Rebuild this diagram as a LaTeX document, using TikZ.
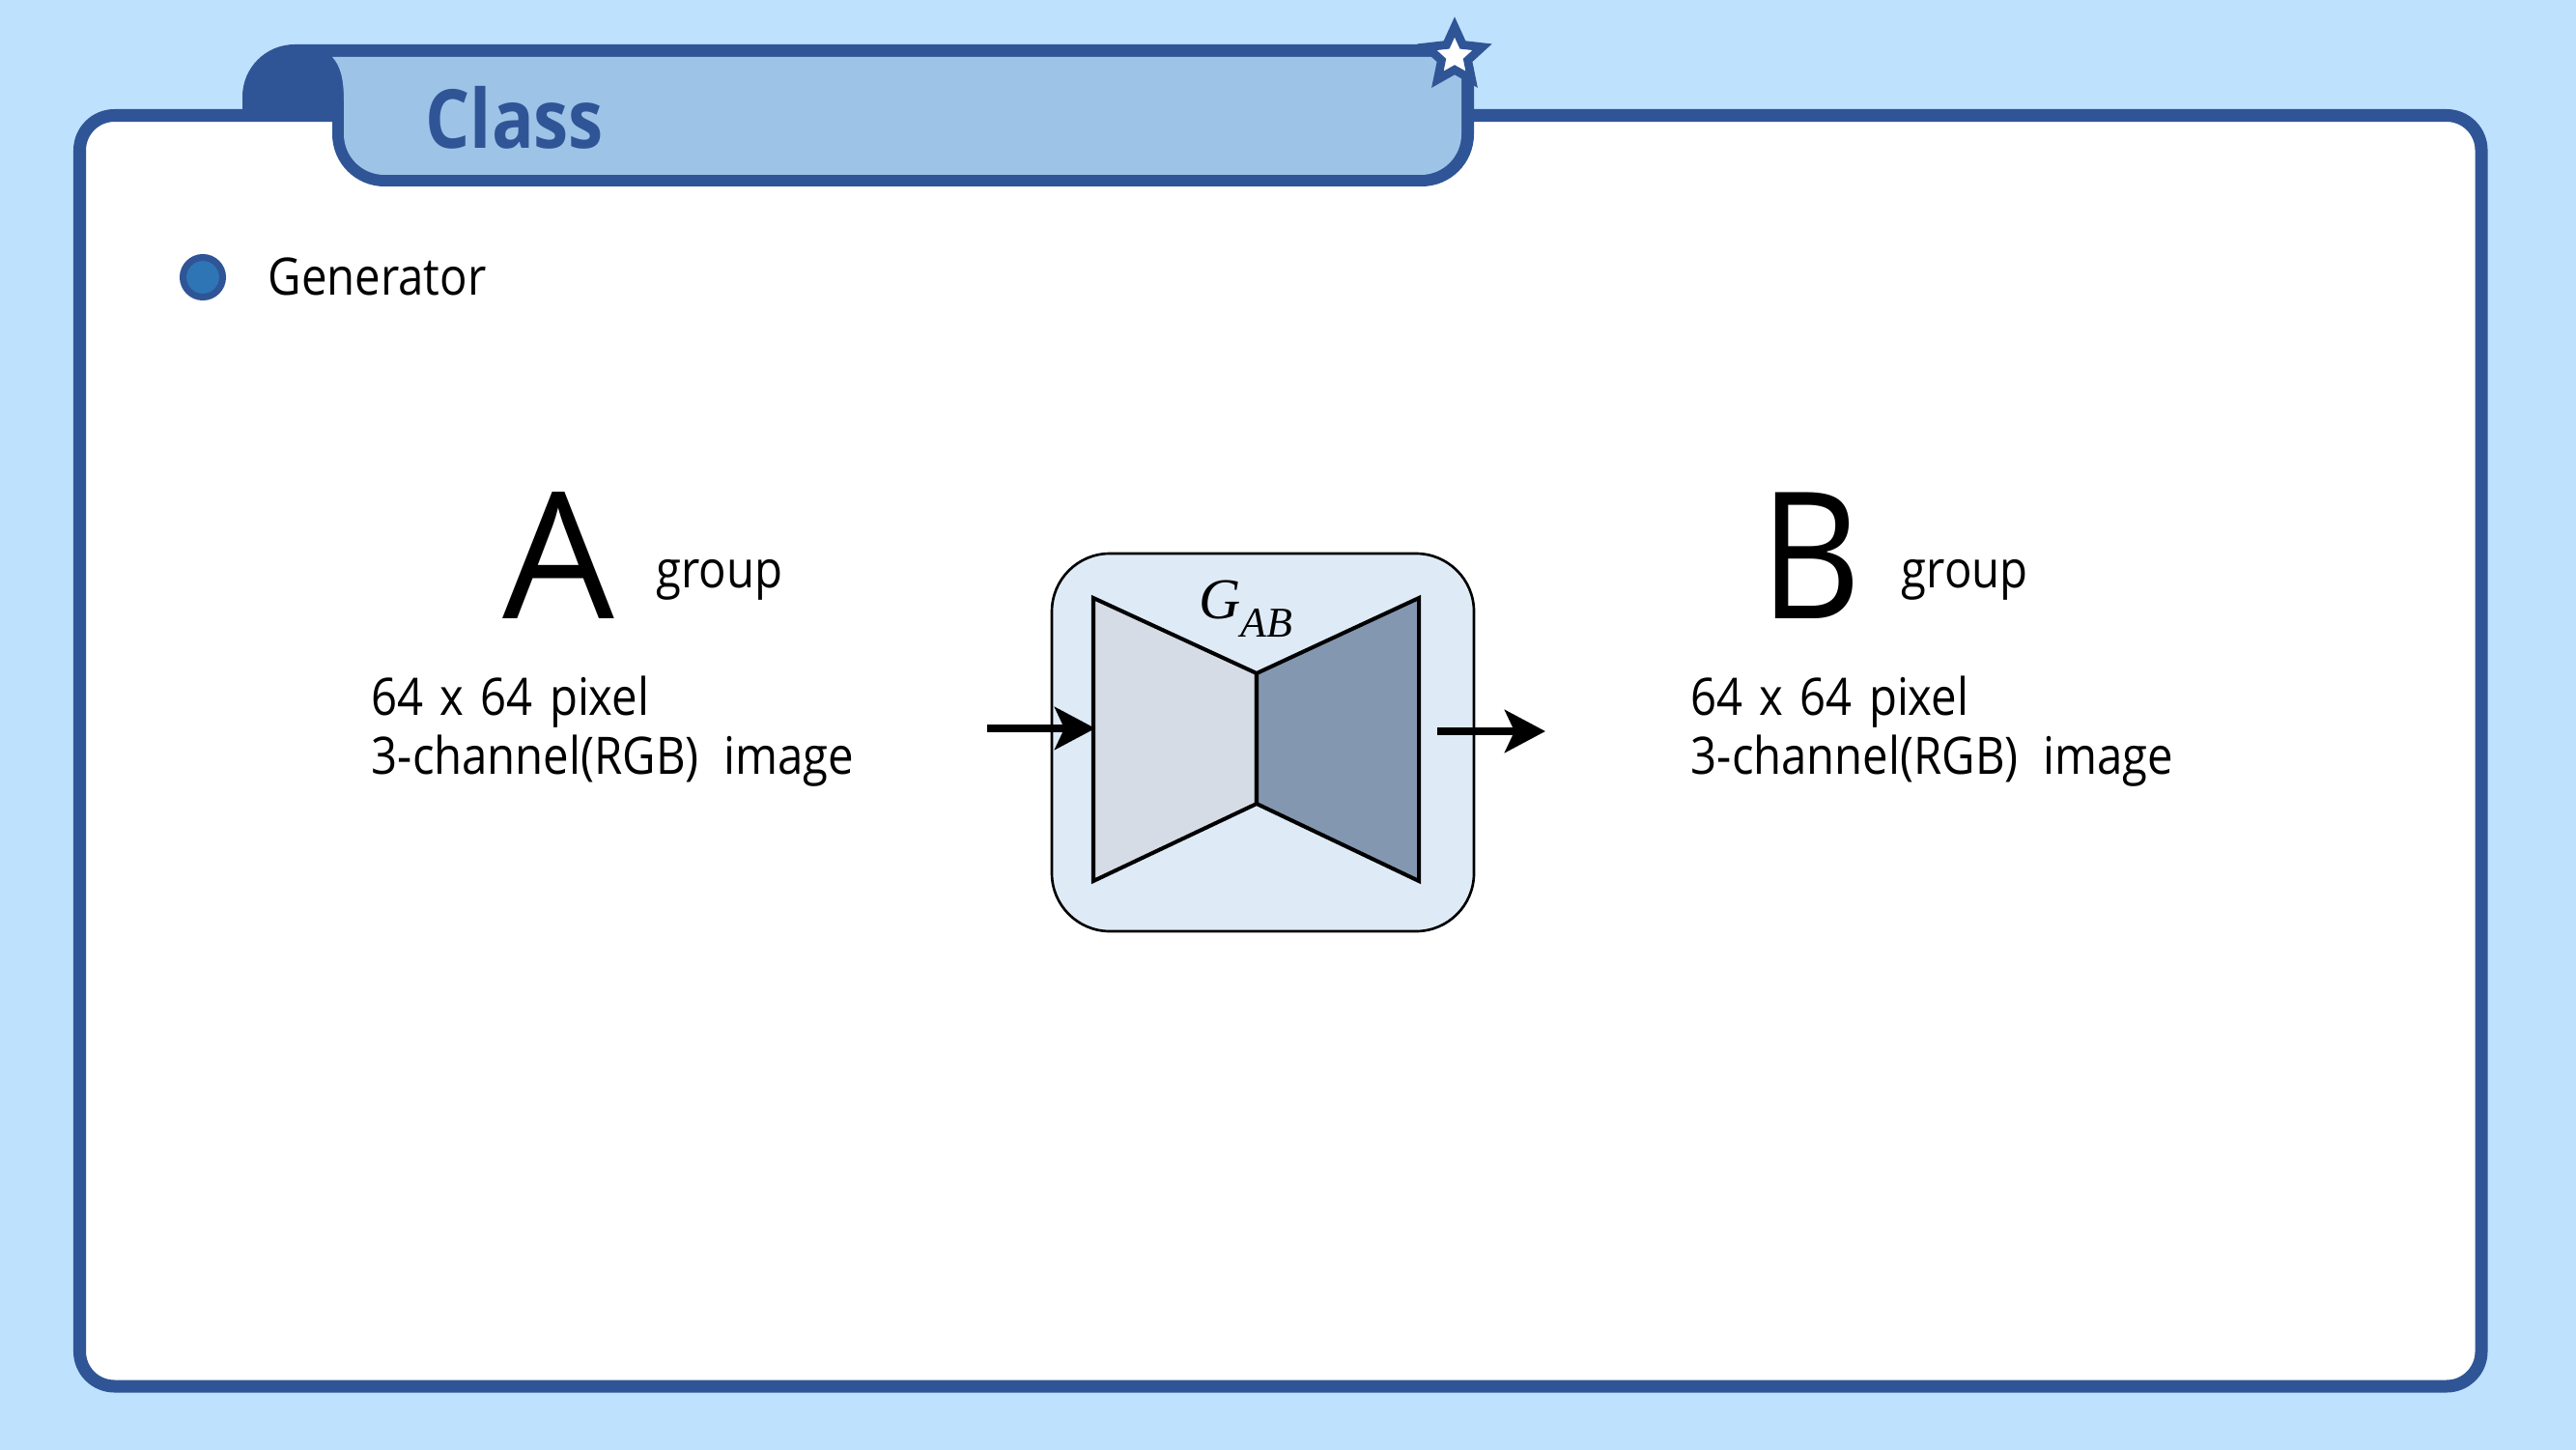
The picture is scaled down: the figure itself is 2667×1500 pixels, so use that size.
\documentclass[tikz,border=0pt]{standalone}
\usepackage{fontspec}
\setmainfont{Open Sans}
\newfontfamily\narrowfont[FakeStretch=0.885]{Open Sans}
\newfontfamily\titlefont[FakeStretch=0.86]{Open Sans}
\newfontfamily\gabfont{Liberation Serif}
\usetikzlibrary{arrows.meta,shapes.geometric}
\definecolor{bgblue}{RGB}{190,225,254}
\definecolor{dblue}{RGB}{47,85,151}
\definecolor{tabblue}{RGB}{157,195,230}
\definecolor{dotblue}{RGB}{46,117,182}
\definecolor{boxblue}{RGB}{222,235,247}
\definecolor{encgray}{RGB}{214,220,229}
\definecolor{decgray}{RGB}{132,151,176}
\tikzset{
    txt/.style={anchor=base west, inner sep=0pt, font=\narrowfont\fontsize{15.2}{18}\selectfont},
    bigletter/.style={anchor=base west, inner sep=0pt, font=\fontsize{52}{60}\selectfont},
    trap/.style={draw=black, line width=1.15pt, line join=miter},
    flow/.style={->, line width=2.15pt},
}

\begin{document}
\begin{tikzpicture}[x=0.01cm,y=-0.01cm,>={Stealth[length=0.42cm,width=0.44cm,inset=0.1cm]}]
    \useasboundingbox (0,0) rectangle (2667,1500);
    \fill[bgblue] (-5,-5) rectangle (2672,1505);

    % card
    \draw[dblue, fill=white, line width=3.7pt, rounded corners=0.36cm] (82.5,119.5) rectangle (2569,1435);

    % title tab
    \fill[dblue] (251,126) [rounded corners=0.54cm] -- (251,46) [rounded corners=0.3cm] -- (1526,46)
        [rounded corners=0.54cm] -- (1526,193) -- (344,193) [sharp corners] -- (344,126) -- cycle;
    \fill[tabblue] (344,59) .. controls (352,68) and (356,80) .. (356,105)
        [rounded corners=0.42cm] -- (356,181) -- (1513,181) [sharp corners] -- (1513,59) -- cycle;
    \node[star, star points=5, star point ratio=2.1, fill=white, draw=dblue, line width=2.5pt, inner sep=0pt, minimum size=0.6cm] (tabstar) at (1506,58) {};
    \node[anchor=base west, inner sep=0pt, text=dblue, font=\titlefont\fontsize{24}{28}\selectfont\bfseries] (title) at (440,153) {Class};

    \node[circle, fill=dotblue, draw=dblue, line width=2pt, inner sep=0pt, minimum size=0.41cm] (bullet) at (210,287) {};
    \node[txt] (generator) at (277,305) {Generator};

    % group A
    \node[bigletter] (letterA) at (520,640) {A};
    \node[txt] (groupA) at (679,608) {group};
    \node[txt] (sizeA) at (384,740) {64\hspace{0.09em} x\hspace{0.09em} 64\hspace{0.09em} pixel};
    \node[txt] (chanA) at (384,801) {3-channel(RGB)\hspace{0.25em} image};

    % generator box
    \draw[fill=boxblue, line width=0.75pt, rounded corners=0.6cm] (1089,573) rectangle (1526,964);
    \draw[trap, fill=encgray] (1132,619) -- (1301,697) -- (1301,832) -- (1132,912) -- cycle;
    \draw[trap, fill=decgray] (1469,619) -- (1301,697) -- (1301,832) -- (1469,912) -- cycle;
    \node[inner sep=0pt, font=\gabfont\fontsize{17}{21}\selectfont\itshape] (gab) at (1290,630) {G\raisebox{-0.32em}{\fontsize{12.5}{15}\selectfont AB}};

    \coordinate (inStart) at (1022,754);
    \coordinate (inEnd) at (1134,754);
    \coordinate (outStart) at (1488,757);
    \coordinate (outEnd) at (1600,757);
    \draw[flow] (inStart) -- (inEnd);
    \draw[flow] (outStart) -- (outEnd);

    % group B
    \node[bigletter, font=\narrowfont\fontsize{52}{60}\selectfont] (letterB) at (1822,640) {B};
    \node[txt] (groupB) at (1968,608) {group};
    \node[txt] (sizeB) at (1750,740) {64\hspace{0.09em} x\hspace{0.09em} 64\hspace{0.09em} pixel};
    \node[txt] (chanB) at (1750,801) {3-channel(RGB)\hspace{0.25em} image};
\end{tikzpicture}
\end{document}
